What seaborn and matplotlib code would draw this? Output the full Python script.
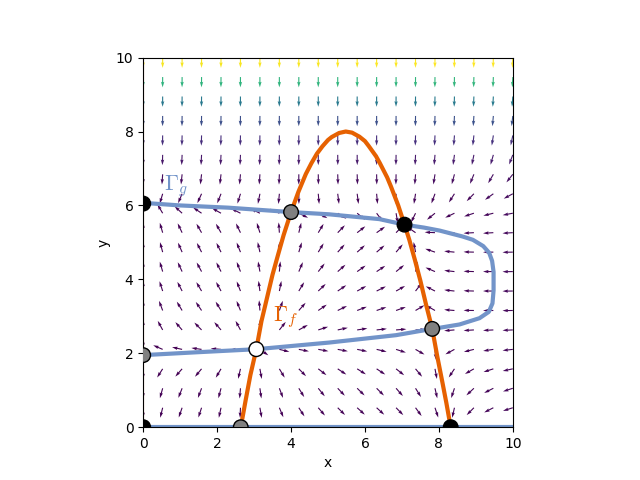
import numpy as np
import matplotlib
matplotlib.use("Agg")
import matplotlib.pyplot as plt
import seaborn as sns

# nullcline Gamma_f
f_x = [2.64, 2.77, 2.9, 3.06, 3.2, 3.35, 3.5, 3.65, 3.8, 4.0, 4.2, 4.4, 4.55, 4.7, 4.85, 5.0, 5.1,
       5.3, 5.48, 5.65, 5.85, 6.0, 6.1, 6.3, 6.4, 6.6, 6.7, 6.9, 7.07, 7.2, 7.35, 7.5, 7.65, 7.82,
       7.95, 8.1, 8.2, 8.32]
f_y = [0.0, 0.72, 1.41, 2.11, 2.87, 3.5, 4.13, 4.67, 5.2, 5.82, 6.37, 6.85, 7.14, 7.4, 7.6, 7.77, 7.85,
       7.96, 8.0, 7.97, 7.86, 7.74, 7.61, 7.33, 7.15, 6.76, 6.52, 6.0, 5.48, 5.07, 4.53, 3.96, 3.33, 2.66,
       1.95, 1.19, 0.67, 0.0]

# nullcline Gamma_g
g_x = [0.0, 1.0, 2.3, 4.0, 5.03, 6.39, 7.07, 7.6, 8.02, 8.64, 8.92, 9.2, 9.36, 9.44, 9.48, 9.48,
       9.45, 9.35, 9.1, 8.56, 8.02, 7.82, 6.84, 5.03, 3.06, 1.5, 0.0]
g_y = [6.07, 6.0, 5.94, 5.82, 5.76, 5.63, 5.48, 5.4, 5.32, 5.16, 5.07, 4.9, 4.72, 4.5, 4.2, 3.7,
       3.35, 3.12, 2.95, 2.78, 2.69, 2.66, 2.49, 2.29, 2.11, 2.03, 1.95]

# equilibria
eq_x = [0, 0, 0, 2.64, 3.06, 4.0, 7.07, 7.82, 8.32]
eq_y = [0, 1.95, 6.05, 0, 2.11, 5.82, 5.48, 2.66, 0]
eq_kind = ['stable', 'saddle', 'stable', 'saddle', 'unstable', 'saddle', 'stable', 'saddle', 'stable']

# model parameters for the direction field
a_lo, a_hi = 2.64, 8.32
g_max, g_c, g_mid = 9.48, 0.537, 4.0

orange = '#e66101'
blue = '#7294c9'

plt.rcParams['mathtext.fontset'] = 'cm'

fig, ax = plt.subplots(figsize=(6.4, 4.8), dpi=100)

X, Y = np.meshgrid(np.linspace(0, 10, 20), np.linspace(0, 10, 20))
U = X * ((X - a_lo) * (a_hi - X) - Y)
V = Y * (g_max - g_c * (Y - g_mid) ** 4 - X)
M = np.hypot(U, V)
M[M == 0] = 1
ax.quiver(X, Y, U / M, V / M, M, cmap='viridis', zorder=1)

# trivial nullclines
sns.lineplot(x=[0, 0], y=[0, 10], color=orange, lw=3, ax=ax, zorder=2)
sns.lineplot(x=[0, 10], y=[0, 0], color=blue, lw=3, ax=ax, zorder=2)

sns.lineplot(x=g_x, y=g_y, sort=False, estimator=None, color=blue, lw=3, ax=ax, zorder=3)
sns.lineplot(x=f_x, y=f_y, sort=False, estimator=None, color=orange, lw=3, ax=ax, zorder=3)

sns.scatterplot(x=eq_x, y=eq_y, hue=eq_kind,
                palette={'stable': 'black', 'saddle': 'gray', 'unstable': 'white'},
                s=110, edgecolor='black', linewidth=1, legend=False, ax=ax, zorder=4)

ax.text(0.55, 6.42, r'$\Gamma_g$', color=blue, fontsize=16)
ax.text(3.5, 2.87, r'$\Gamma_f$', color=orange, fontsize=16)

ax.set_xlim(0, 10)
ax.set_ylim(0, 10)
ax.set_aspect('equal')
ax.set_xlabel('x')
ax.set_ylabel('y')

fig.savefig('out.png', dpi=100)
